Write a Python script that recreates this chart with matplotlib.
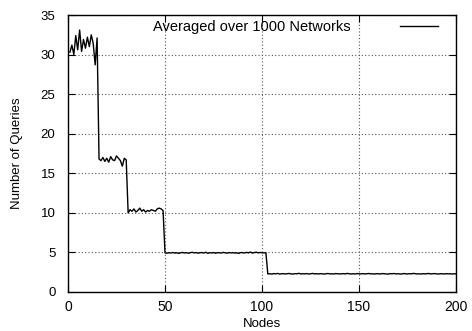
import matplotlib
matplotlib.use("Agg")
import matplotlib.pyplot as plt
import numpy as np

plt.rcParams['font.family'] = ['Liberation Sans', 'DejaVu Sans']

# Average number of queries per network size (nodes 1..200)
q_small = [30.3, 31.2, 30.0, 32.4, 30.6, 33.1, 30.4, 31.9, 30.8, 32.2,
           31.0, 32.5, 31.4, 28.7, 32.1]
q_step2 = [16.8, 16.6, 17.0, 16.5, 16.9, 16.4, 17.1, 16.7, 16.6, 17.2,
           16.9, 16.6, 15.9, 16.9, 16.7]
q_step3 = [10.0, 10.4, 10.2, 10.5, 10.1, 10.3, 10.6, 10.2, 10.4, 10.1,
           10.3, 10.2, 10.4, 10.3, 10.2, 10.5, 10.6, 10.5, 10.3]
q_step4 = [4.95, 4.90, 4.97, 4.93, 4.99, 4.92, 4.96, 4.88, 4.95, 5.00,
           4.93, 4.97, 4.90, 4.96, 5.02, 4.94, 4.98, 4.91, 4.95, 4.99,
           4.92, 5.03, 4.89, 4.96, 4.94, 4.98, 4.90, 4.97, 4.95, 4.93,
           5.00, 4.96, 4.91, 4.98, 4.94, 4.97, 4.92, 4.95, 4.88, 4.99,
           4.96, 4.93, 5.01, 4.94, 5.05, 4.92, 4.97, 5.03, 4.95, 4.99,
           4.96, 4.94, 4.98]
q_step5 = [2.28, 2.31, 2.26, 2.33, 2.29, 2.35, 2.27, 2.30, 2.32, 2.28,
           2.31, 2.34, 2.29, 2.27, 2.32, 2.30, 2.36, 2.28, 2.31, 2.29,
           2.33, 2.27, 2.30, 2.35, 2.29, 2.31, 2.28, 2.32, 2.30, 2.26,
           2.31, 2.34, 2.29, 2.30, 2.27, 2.33, 2.31, 2.28, 2.30, 2.32,
           2.29, 2.35, 2.30, 2.28, 2.31, 2.27, 2.33, 2.30, 2.29, 2.32,
           2.28, 2.31, 2.34, 2.29, 2.30, 2.27, 2.32, 2.30, 2.28, 2.33,
           2.31, 2.29, 2.26, 2.32, 2.30, 2.34, 2.28, 2.31, 2.29, 2.27,
           2.33, 2.30, 2.28, 2.32, 2.29, 2.35, 2.31, 2.28, 2.30, 2.27,
           2.32, 2.29, 2.31, 2.34, 2.28, 2.30, 2.33, 2.29, 2.27, 2.31,
           2.30, 2.28, 2.32, 2.29, 2.31, 2.27, 2.30, 2.29]

queries = q_small + q_step2 + q_step3 + q_step4 + q_step5
nodes = np.arange(1, len(queries) + 1)

x_ticks = [0, 50, 100, 150, 200]
y_ticks = [0, 5, 10, 15, 20, 25, 30, 35]

fig = plt.figure(figsize=(4.72, 3.31), dpi=100)
ax = fig.add_axes([68 / 472, 1 - 292 / 331, (456 - 68) / 472, (292 - 15) / 331])

ax.plot(nodes, queries, color='black', linewidth=1.0,
        label='Averaged over 1000 Networks')

ax.set_xlim(0, 200)
ax.set_ylim(0, 35)
ax.set_xticks(x_ticks)
ax.set_yticks(y_ticks)
ax.grid(True, linestyle=(0, (1, 2)), color='#555555', linewidth=0.8)
ax.tick_params(direction='in', length=5, width=0.8, top=True, right=True)
ax.tick_params(axis='x', labelsize=10, pad=5.5)
ax.tick_params(axis='y', labelsize=9.5, pad=9)
for s in ax.spines.values():
    s.set_linewidth(1.0)

ax.set_xlabel('Nodes', fontsize=9.5, labelpad=3)
ax.set_ylabel('Number of Queries', fontsize=9.5, labelpad=13)

leg = ax.legend(loc='center right', bbox_to_anchor=(0.9536, 0.9567),
                frameon=False, markerfirst=False, fontsize=10.5,
                handlelength=2.6, handletextpad=3.4,
                borderaxespad=0, borderpad=0)

fig.savefig('out.png', dpi=100)
